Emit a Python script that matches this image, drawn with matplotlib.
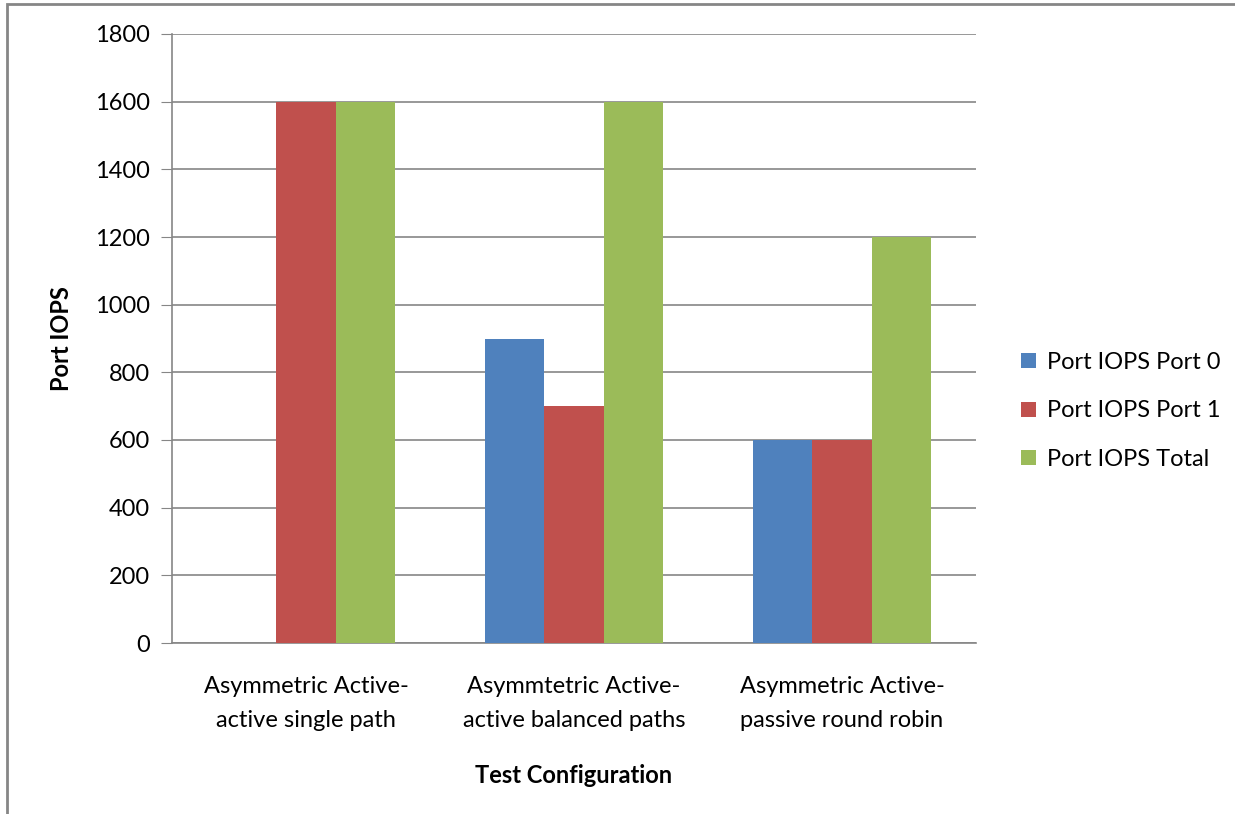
import numpy as np
import matplotlib.pyplot as plt
from matplotlib.patches import Rectangle

categories = ["Asymmetric Active-\nactive single path",
              "Asymmtetric Active-\nactive balanced paths",
              "Asymmetric Active-\npassive round robin"]
port0 = [0, 900, 600]
port1 = [1600, 700, 600]
total = [1600, 1600, 1200]
series_names = ["Port IOPS Port 0", "Port IOPS Port 1", "Port IOPS Total"]
colors = ["#4F81BD", "#C0504D", "#9BBB59"]

plt.rcParams['font.family'] = ['Lato', 'DejaVu Sans']
fs = 17

fig = plt.figure(figsize=(12.35, 8.14), dpi=100)
ax = fig.add_axes([172 / 1235, 1 - 643 / 814, (976 - 172) / 1235, (643 - 34) / 814])

x = np.arange(len(categories))
w = 1 / 4.5
for i, (vals, name, c) in enumerate(zip([port0, port1, total], series_names, colors)):
    ax.bar(x + (i - 1) * w, vals, width=w, color=c, label=name, zorder=3)

ax.set_xlim(-0.5, 2.5)
ax.set_ylim(0, 1800)
ax.set_yticks(range(0, 1801, 200))
ax.set_xticks(x)
ax.set_xticklabels(categories, fontsize=fs, linespacing=1.75)
ax.tick_params(axis='x', length=0, pad=24)
ax.tick_params(axis='y', labelsize=fs, length=8, color="#868686", pad=8)
ax.grid(axis='y', color="#868686", linewidth=1.2, zorder=0)
for s in ['top', 'right']:
    ax.spines[s].set_visible(False)
for s in ['left', 'bottom']:
    ax.spines[s].set_color("#868686")
    ax.spines[s].set_linewidth(1.2)

ax.set_ylabel("Port IOPS", fontsize=fs, fontweight='bold', labelpad=16)
ax.set_xlabel("Test Configuration", fontsize=fs, fontweight='bold', labelpad=24)

ax.legend(loc='center left', bbox_to_anchor=(1.03, 0.381), frameon=False,
          fontsize=fs, handlelength=0.6, handleheight=0.6, handletextpad=0.5,
          labelspacing=1.15)

# outer chart border, cut off at right and bottom
fig.patches.append(Rectangle((6.5 / 1235, -0.1), 1.2, 1.1 - 4.5 / 814,
                             transform=fig.transFigure, fill=False,
                             edgecolor="#868686", linewidth=2))

fig.savefig("out.png", dpi=100)
